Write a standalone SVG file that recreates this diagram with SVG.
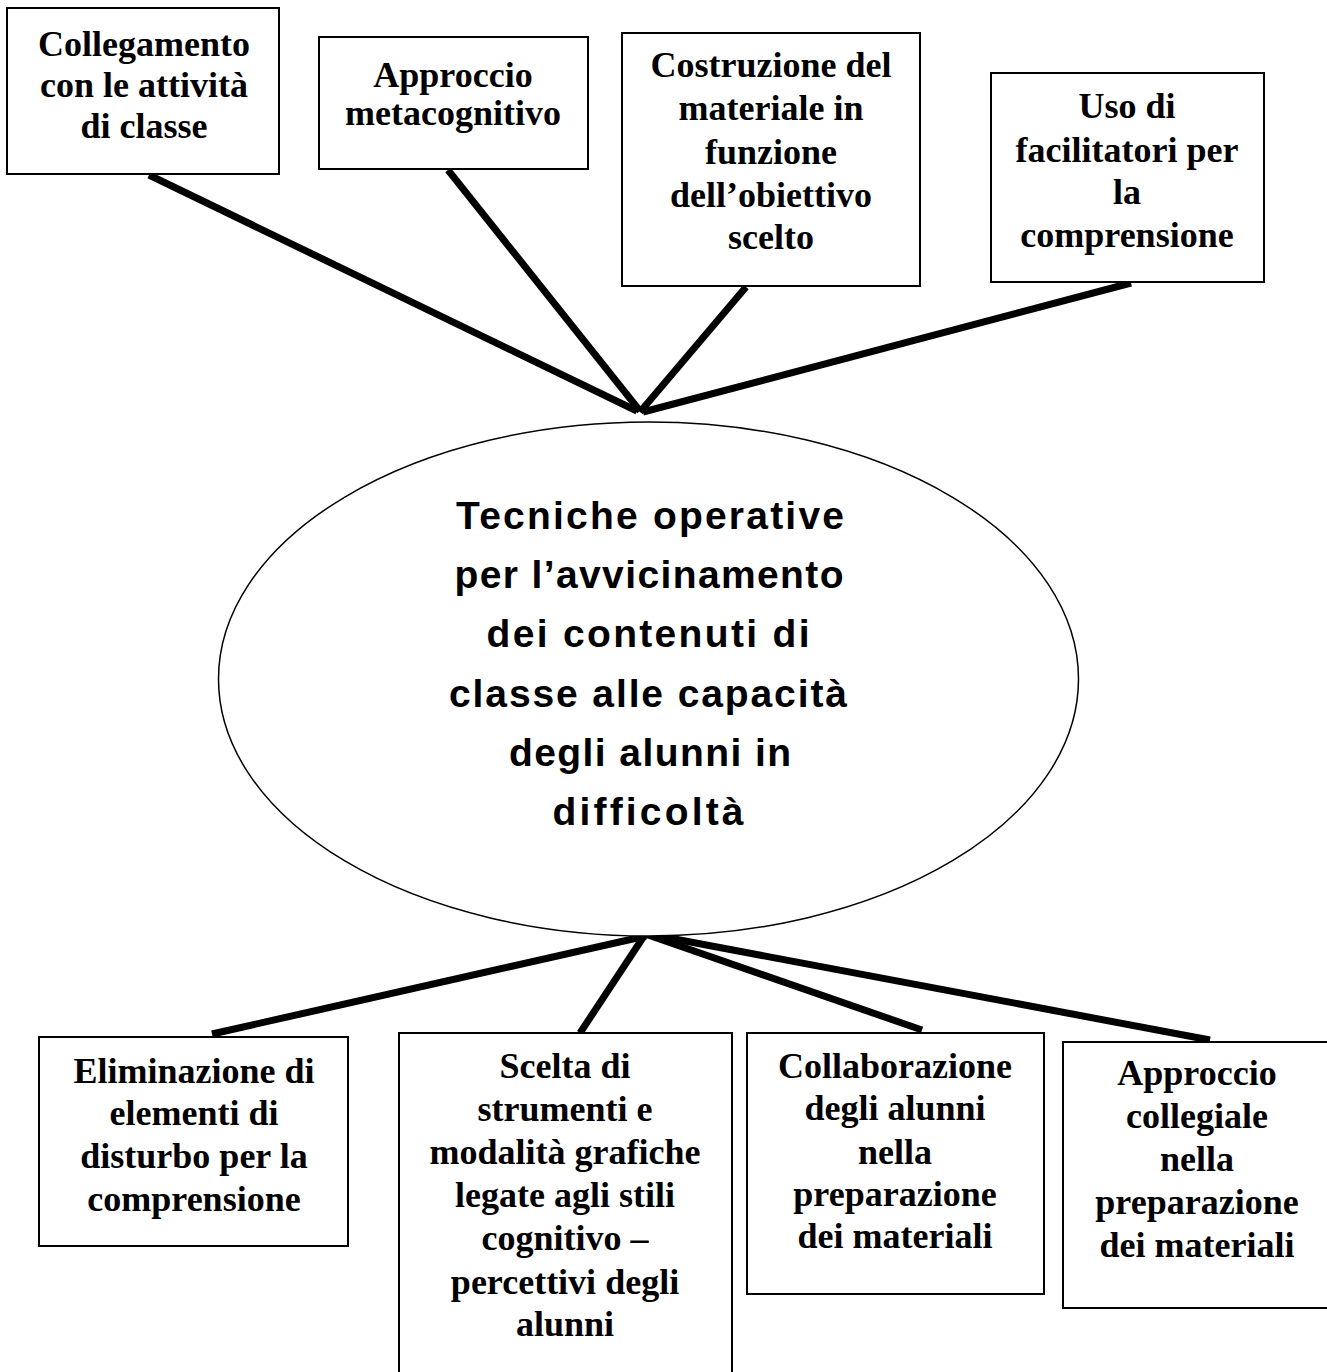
<svg xmlns="http://www.w3.org/2000/svg" width="1327" height="1372" viewBox="0 0 1327 1372">
<style>
.box{fill:#fff;stroke:#000;stroke-width:2}
.t{font-family:"Liberation Serif","Times New Roman",serif;font-weight:bold;font-size:36px;text-anchor:middle;fill:#000}
.c{font-family:"Liberation Sans",Arial,sans-serif;font-weight:bold;font-size:39px;text-anchor:middle;fill:#000}
.ln{stroke:#000;stroke-width:7;stroke-linecap:butt;fill:none}
</style>
<rect width="1327" height="1372" fill="#fff"/>
<g id="connectors">
<line class="ln" x1="149" y1="175" x2="637" y2="411"/>
<line class="ln" x1="448" y1="170" x2="640" y2="411"/>
<line class="ln" x1="746" y1="287" x2="640" y2="412"/>
<line class="ln" x1="1131" y1="283" x2="643" y2="412"/>
<line class="ln" x1="212" y1="1034" x2="646" y2="936"/>
<line class="ln" x1="580" y1="1033" x2="648" y2="930"/>
<line class="ln" x1="922" y1="1030" x2="648" y2="935"/>
<line class="ln" x1="1210" y1="1040" x2="648" y2="934"/>
</g>
<g id="center">
<ellipse cx="648.5" cy="679" rx="430" ry="257" fill="#fff" stroke="#000" stroke-width="1.5"/>
<text class="c" x="650" y="529" textLength="388" lengthAdjust="spacing">Tecniche operative</text>
<text class="c" x="649" y="588" textLength="389" lengthAdjust="spacing">per l’avvicinamento</text>
<text class="c" x="648" y="647" textLength="323" lengthAdjust="spacing">dei contenuti di</text>
<text class="c" x="648" y="707" textLength="398" lengthAdjust="spacing">classe alle capacità</text>
<text class="c" x="650" y="766" textLength="282" lengthAdjust="spacing">degli alunni in</text>
<text class="c" x="648" y="825" textLength="191" lengthAdjust="spacing">difficoltà</text>
</g>
<g id="n1">
<rect class="box" x="7" y="8" width="272" height="166"/>
<text class="t" x="144" y="56">Collegamento</text>
<text class="t" x="144" y="97">con le attività</text>
<text class="t" x="144" y="138">di classe</text>
</g>
<g id="n2">
<rect class="box" x="319" y="37" width="269" height="132"/>
<text class="t" x="453" y="87">Approccio</text>
<text class="t" x="453" y="125">metacognitivo</text>
</g>
<g id="n3">
<rect class="box" x="622" y="33" width="298" height="253"/>
<text class="t" x="771" y="77">Costruzione del</text>
<text class="t" x="771" y="120">materiale in</text>
<text class="t" x="771" y="164">funzione</text>
<text class="t" x="771" y="207">dell’obiettivo</text>
<text class="t" x="771" y="249">scelto</text>
</g>
<g id="n4">
<rect class="box" x="991" y="73" width="273" height="209"/>
<text class="t" x="1127" y="118">Uso di</text>
<text class="t" x="1127" y="162">facilitatori per</text>
<text class="t" x="1127" y="204">la</text>
<text class="t" x="1127" y="247">comprensione</text>
</g>
<g id="n5">
<rect class="box" x="39" y="1037" width="309" height="209"/>
<text class="t" x="194" y="1083">Eliminazione di</text>
<text class="t" x="194" y="1125">elementi di</text>
<text class="t" x="194" y="1168">disturbo per la</text>
<text class="t" x="194" y="1211">comprensione</text>
</g>
<g id="n6">
<rect class="box" x="399" y="1033" width="333" height="360"/>
<text class="t" x="565" y="1078">Scelta di</text>
<text class="t" x="565" y="1121">strumenti e</text>
<text class="t" x="565" y="1164">modalità grafiche</text>
<text class="t" x="565" y="1207">legate agli stili</text>
<text class="t" x="565" y="1250">cognitivo –</text>
<text class="t" x="565" y="1294">percettivi degli</text>
<text class="t" x="565" y="1336">alunni</text>
</g>
<g id="n7">
<rect class="box" x="747" y="1033" width="297" height="261"/>
<text class="t" x="895" y="1078">Collaborazione</text>
<text class="t" x="895" y="1120">degli alunni</text>
<text class="t" x="895" y="1164">nella</text>
<text class="t" x="895" y="1206">preparazione</text>
<text class="t" x="895" y="1248">dei materiali</text>
</g>
<g id="n8">
<rect class="box" x="1063" y="1042" width="268" height="266"/>
<text class="t" x="1197" y="1085">Approccio</text>
<text class="t" x="1197" y="1128">collegiale</text>
<text class="t" x="1197" y="1171">nella</text>
<text class="t" x="1197" y="1214">preparazione</text>
<text class="t" x="1197" y="1257">dei materiali</text>
</g>
</svg>
